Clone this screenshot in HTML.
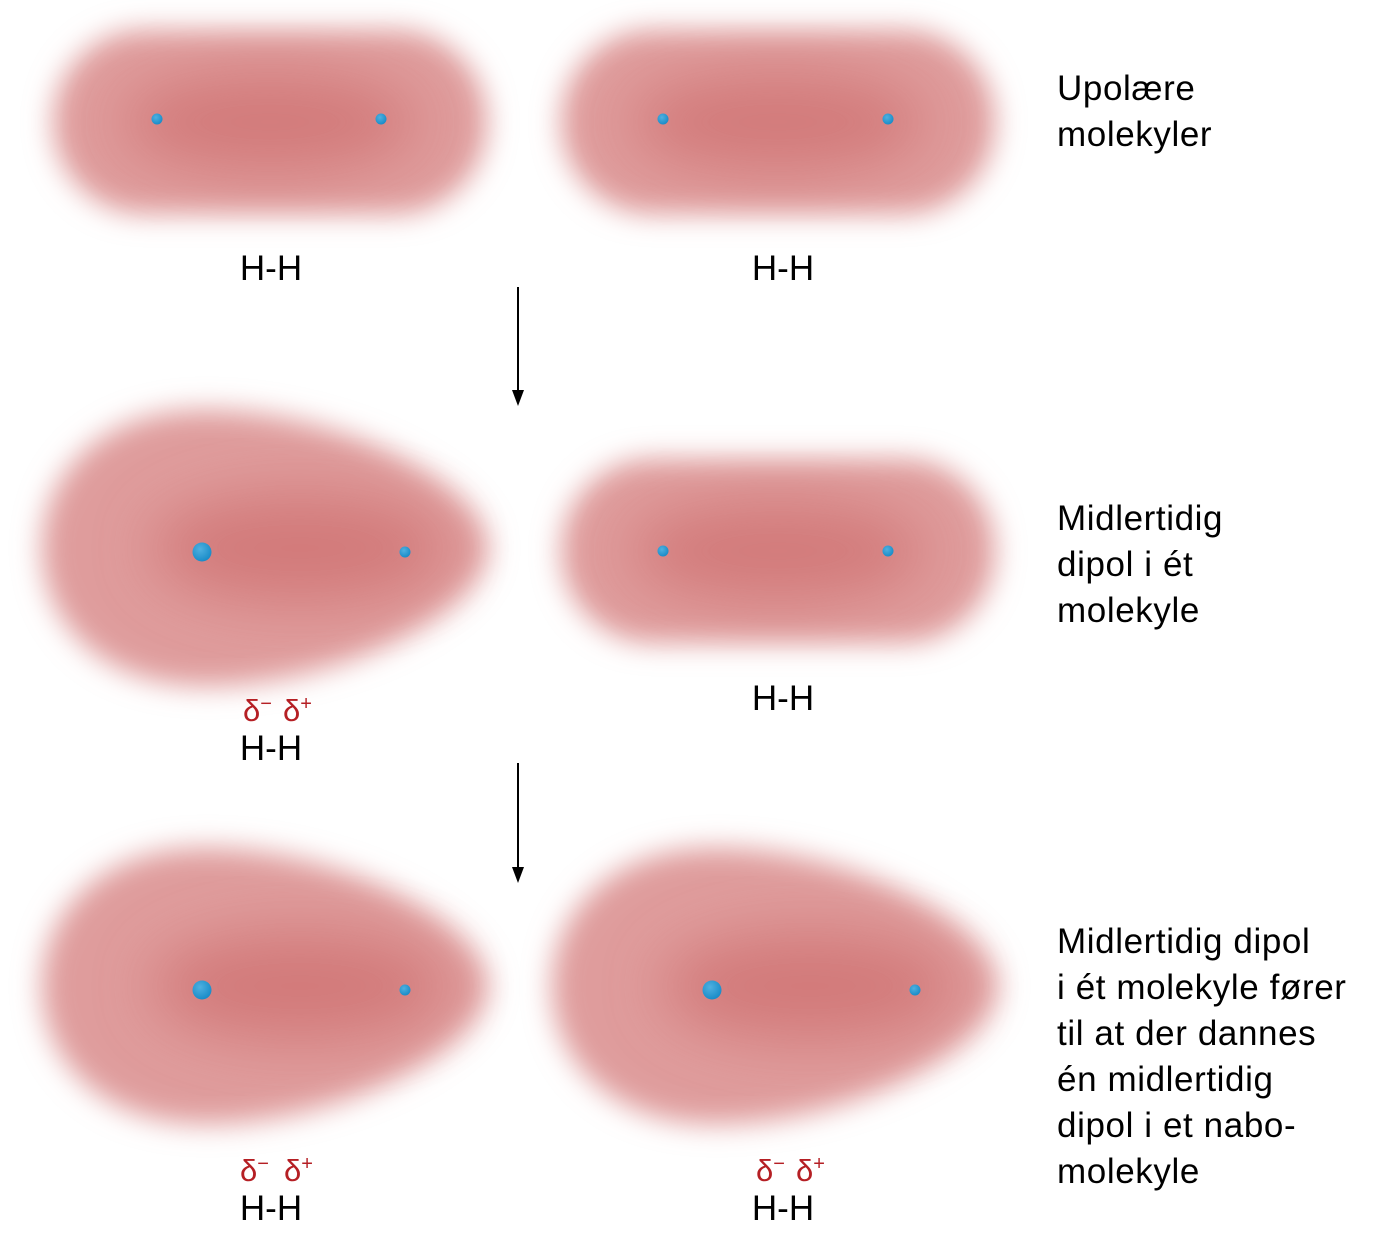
<!DOCTYPE html>
<html><head><meta charset="utf-8"><style>
html,body{margin:0;padding:0;background:#fff;}
svg{display:block;}
text{font-family:"Liberation Sans",sans-serif;}
.r{font-size:35px;letter-spacing:0.6px;}
</style></head><body>
<svg width="1378" height="1242" viewBox="0 0 1378 1242" xmlns="http://www.w3.org/2000/svg">
<defs>
<filter id="b" x="-20%" y="-30%" width="140%" height="160%"><feGaussianBlur stdDeviation="14"/></filter>
<filter id="b2" x="-30%" y="-50%" width="160%" height="200%"><feGaussianBlur stdDeviation="30"/></filter>
<radialGradient id="n" cx="40%" cy="35%" r="65%"><stop offset="0" stop-color="#4fb0e0"/><stop offset="1" stop-color="#1a8cc8"/></radialGradient>
<symbol id="cap" overflow="visible">
<rect x="8" y="8" width="434" height="184" rx="92" fill="#df9c9c" filter="url(#b)"/>
<ellipse cx="225" cy="100" rx="150" ry="50" fill="#c85e5e" opacity="0.55" filter="url(#b2)"/>
</symbol>
<symbol id="tear" overflow="visible">
<path d="M458,0 C458,-62 310,-138 175,-138 C70,-138 12,-72 12,0 C12,72 70,138 175,138 C310,138 458,62 458,0 Z" fill="#df9c9c" filter="url(#b)"/>
<ellipse cx="270" cy="0" rx="150" ry="55" fill="#c85e5e" opacity="0.55" filter="url(#b2)"/>
</symbol>
</defs>
<use href="#cap" x="45" y="22"/>
<use href="#cap" x="553" y="22"/>
<circle cx="157" cy="119" r="5.5" fill="url(#n)"/>
<circle cx="381" cy="119" r="5.5" fill="url(#n)"/>
<circle cx="663" cy="119" r="5.5" fill="url(#n)"/>
<circle cx="888" cy="119" r="5.5" fill="url(#n)"/>
<text x="271" y="280" font-size="35" text-anchor="middle">H-H</text>
<text x="783" y="280" font-size="35" text-anchor="middle">H-H</text>
<text class="r" x="1057" y="100">Upolære</text>
<text class="r" x="1057" y="146">molekyler</text>
<line x1="518" y1="287" x2="518" y2="398" stroke="#000" stroke-width="2"/>
<path d="M512,390 L518,406 L524,390 Z" fill="#000"/>
<use href="#tear" x="30" y="548"/>
<use href="#cap" x="553" y="451"/>
<circle cx="202" cy="552" r="9.5" fill="url(#n)"/>
<circle cx="405" cy="552" r="5.5" fill="url(#n)"/>
<circle cx="663" cy="551" r="5.5" fill="url(#n)"/>
<circle cx="888" cy="551" r="5.5" fill="url(#n)"/>
<text x="243" y="721" font-size="31" fill="#b51f24">δ<tspan font-size="20" dy="-11">−</tspan></text>
<text x="283" y="721" font-size="31" fill="#b51f24">δ<tspan font-size="20" dy="-11">+</tspan></text>
<text x="271" y="760" font-size="35" text-anchor="middle">H-H</text>
<text x="783" y="710" font-size="35" text-anchor="middle">H-H</text>
<text class="r" x="1057" y="530">Midlertidig</text>
<text class="r" x="1057" y="576">dipol i ét</text>
<text class="r" x="1057" y="622">molekyle</text>
<line x1="518" y1="763" x2="518" y2="875" stroke="#000" stroke-width="2"/>
<path d="M512,867 L518,883 L524,867 Z" fill="#000"/>
<use href="#tear" x="30" y="986"/>
<use href="#tear" x="540" y="986"/>
<circle cx="202" cy="990" r="9.5" fill="url(#n)"/>
<circle cx="405" cy="990" r="5.5" fill="url(#n)"/>
<circle cx="712" cy="990" r="9.5" fill="url(#n)"/>
<circle cx="915" cy="990" r="5.5" fill="url(#n)"/>
<text x="240" y="1181" font-size="31" fill="#b51f24">δ<tspan font-size="20" dy="-11">−</tspan></text>
<text x="284" y="1181" font-size="31" fill="#b51f24">δ<tspan font-size="20" dy="-11">+</tspan></text>
<text x="756" y="1181" font-size="31" fill="#b51f24">δ<tspan font-size="20" dy="-11">−</tspan></text>
<text x="796" y="1181" font-size="31" fill="#b51f24">δ<tspan font-size="20" dy="-11">+</tspan></text>
<text x="271" y="1220" font-size="35" text-anchor="middle">H-H</text>
<text x="783" y="1220" font-size="35" text-anchor="middle">H-H</text>
<text class="r" x="1057" y="953">Midlertidig dipol</text>
<text class="r" x="1057" y="999">i ét molekyle fører</text>
<text class="r" x="1057" y="1045">til at der dannes</text>
<text class="r" x="1057" y="1091">én midlertidig</text>
<text class="r" x="1057" y="1137">dipol i et nabo-</text>
<text class="r" x="1057" y="1183">molekyle</text>
</svg>
</body></html>
